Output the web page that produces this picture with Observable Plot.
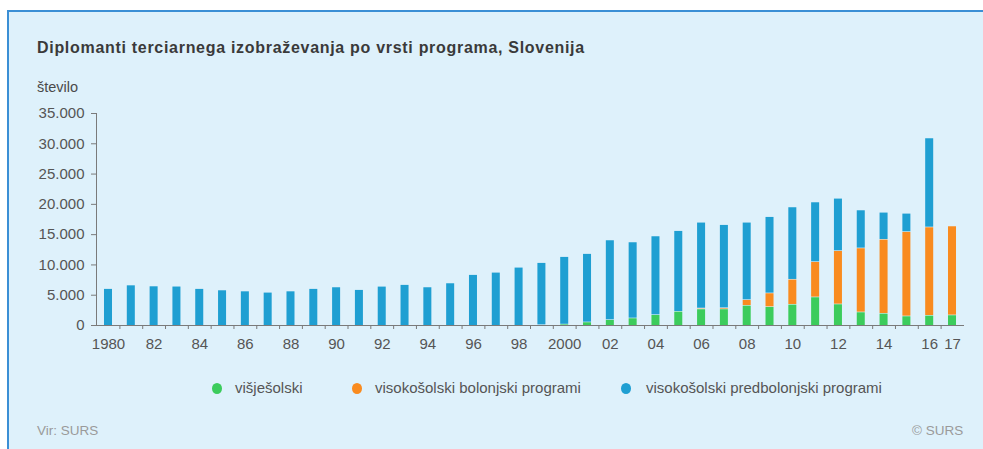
<!DOCTYPE html>
<html>
<head>
<meta charset="utf-8">
<script src="https://cdn.jsdelivr.net/npm/d3@7"></script>
<script src="https://cdn.jsdelivr.net/npm/@observablehq/plot@0.6"></script>
<style>
html,body{margin:0;padding:0;background:#fff;width:983px;height:449px;overflow:hidden;font-family:"Liberation Sans",Arial,Helvetica,sans-serif}
#panel{position:absolute;left:7px;top:10px;width:1000px;height:460px;background:#def1fb;border-left:2px solid #3b8fd5;border-top:2px solid #3b8fd5}
#chart{position:absolute;left:0;top:0}
.t{position:absolute;line-height:1;white-space:nowrap}
#title{left:37px;top:39.5px;font-size:16px;font-weight:bold;color:#3a3a3a;letter-spacing:0.7px}
#ylab{left:37px;top:80px;font-size:14.5px;color:#4a4a4a}
.leg{position:absolute;top:380px;font-size:15px;color:#555;line-height:1;white-space:nowrap}
.dot{position:absolute;width:10px;height:11px;border-radius:50%;top:383px}
.foot{position:absolute;top:424px;font-size:13.5px;color:#9a9a9a;line-height:1}
</style>
</head>
<body>
<div id="panel"></div>
<div id="chart"></div>
<div class="t" id="title">Diplomanti terciarnega izobraževanja po vrsti programa, Slovenija</div>
<div class="t" id="ylab">število</div>
<div id="legend"></div>
<div class="foot" style="left:37px">Vir: SURS</div>
<div class="foot" style="left:912px">© SURS</div>
<script>
const years = [1980,1981,1982,1983,1984,1985,1986,1987,1988,1989,1990,1991,1992,1993,1994,1995,1996,1997,1998,1999,2000,2001,2002,2003,2004,2005,2006,2007,2008,2009,2010,2011,2012,2013,2014,2015,2016,2017];
const seriesNames = ["višješolski","visokošolski bolonjski programi","visokošolski predbolonjski programi"];
const seriesColors = ["#3ccc5c","#f98b1f","#1f9fd2"];
const visjesolski = [0,0,0,0,0,0,0,0,0,0,0,0,0,0,0,0,0,0,0,100,200,550,940,1210,1760,2310,2700,2700,3300,3080,3470,4680,3520,2200,1980,1540,1650,1710];
const bolonjski = [0,0,0,0,0,0,0,0,0,0,0,0,0,0,0,0,0,0,0,0,0,0,0,0,0,0,150,200,940,2260,4130,5830,8810,10570,12220,13930,14580,14690];
const predbolonjski = [6060,6650,6490,6450,6060,5830,5660,5450,5660,6060,6330,5890,6440,6720,6330,6990,8370,8750,9580,10250,11140,11290,13150,12550,12990,13320,14160,13720,12770,12600,11940,9850,8640,6270,4460,3020,14700,0];
const yTicks = [0,5000,10000,15000,20000,25000,30000,35000];
const xTickYears = [1980,1982,1984,1986,1988,1990,1992,1994,1996,1998,2000,2002,2004,2006,2008,2010,2012,2014,2016,2017];
const xTickLabels = ["1980","82","84","86","88","90","92","94","96","98","2000","02","04","06","08","10","12","14","16","17"];

const seriesValues = [visjesolski, bolonjski, predbolonjski];
const rows = [];
years.forEach((yr, i) => {
  seriesNames.forEach((s, k) => {
    const v = seriesValues[k][i];
    if (v > 0) rows.push({year: yr, series: s, value: v});
  });
});
const labelMap = new Map(xTickYears.map((y, i) => [y, xTickLabels[i]]));
const boundaries = years.slice(1).map(y => y - 0.5);
const fmt = d => d3.format(",")(d).replace(/,/g, ".");
const xDomain = [years[0] - 0.526, years[years.length - 1] + 0.526];

const chart = Plot.plot({
  width: 983, height: 449,
  marginLeft: 96, marginRight: 19, marginTop: 113, marginBottom: 124,
  style: {background: "transparent", fontFamily: "'Liberation Sans', Arial, sans-serif", fontSize: "15px", color: "#555"},
  x: {type: "linear", domain: xDomain},
  y: {domain: [0, 35000]},
  color: {domain: seriesNames, range: seriesColors},
  marks: [
    Plot.rectY(rows, {x1: d => d.year - 0.5, x2: d => d.year + 0.5, y: "value", fill: "series", insetLeft: 7.4, insetRight: 7.4, insetTop: 0.6}),
    Plot.ruleY([0], {stroke: "#7a7a7a"}),
    Plot.ruleX([xDomain[0]], {stroke: "#7a7a7a"}),
    Plot.axisY({ticks: yTicks, tickFormat: fmt, tickSize: 5, tickPadding: 7, stroke: "#7a7a7a", fill: "#555", label: null}),
    Plot.axisX({ticks: boundaries, tickSize: 4, text: null, label: null, stroke: "#7a7a7a"}),
    Plot.axisX({ticks: xTickYears, tickFormat: d => labelMap.get(d), tickSize: 0, tickPadding: 13, fill: "#555", label: null})
  ]
});
document.getElementById("chart").appendChild(chart);

const legendPos = [[212, 235], [352, 375], [621, 646]];
const leg = document.getElementById("legend");
seriesNames.forEach((s, k) => {
  const d = document.createElement("div");
  d.className = "dot";
  d.style.left = legendPos[k][0] + "px";
  d.style.background = seriesColors[k];
  leg.appendChild(d);
  const t = document.createElement("div");
  t.className = "leg";
  t.style.left = legendPos[k][1] + "px";
  t.textContent = s;
  leg.appendChild(t);
});
</script>
</body>
</html>
